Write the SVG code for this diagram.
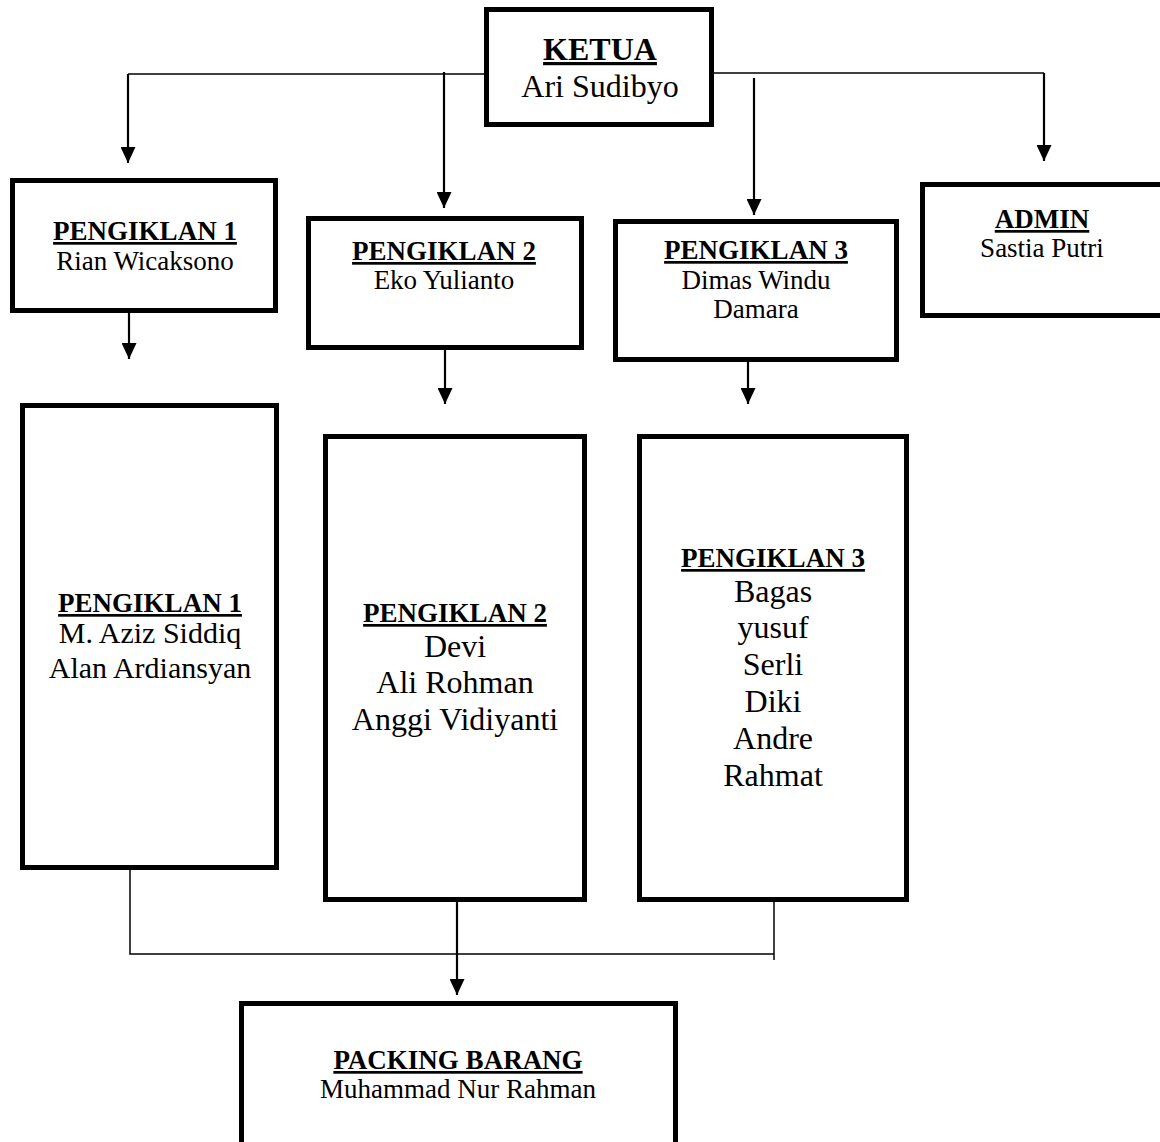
<svg xmlns="http://www.w3.org/2000/svg" width="1160" height="1142" viewBox="0 0 1160 1142">
<style>
.box{fill:#fff;stroke:#000;stroke-width:5}
.h{font-family:"Liberation Serif","Times New Roman",serif;font-weight:bold;text-anchor:middle;text-decoration:underline;fill:#000}
.t{font-family:"Liberation Serif","Times New Roman",serif;text-anchor:middle;fill:#000}
.c{fill:none;stroke:#000;stroke-width:1.5}
.a{fill:none;stroke:#000;stroke-width:2.2;marker-end:url(#arr)}
</style>
<defs>
<marker id="arr" markerUnits="userSpaceOnUse" markerWidth="16" markerHeight="15" refX="16" refY="7.5" orient="auto" viewBox="0 0 16 15">
<path d="M0,0 L16,7.5 L0,15 z" fill="#000"/>
</marker>
</defs>
<rect width="1160" height="1142" fill="#fff"/>
<g id="connectors">
<path class="c" d="M128,74 H486"/>
<path class="a" d="M128,74 V163"/>
<path class="a" d="M444,72 V208"/>
<path class="c" d="M714,73 H1044"/>
<path class="a" d="M1044,73 V161"/>
<path class="a" d="M754,78 V215"/>
<path class="a" d="M129,313 V359"/>
<path class="a" d="M445,350 V404"/>
<path class="a" d="M748,362 V404"/>
<path class="c" d="M130,870 V954 H774"/>
<path class="c" d="M774,896 V960"/>
<path class="a" d="M457,902 V995"/>
</g>
<g id="ketua">
<rect class="box" x="486.5" y="9.5" width="225" height="115"/>
<text class="h" x="600" y="60" font-size="32">KETUA</text>
<text class="t" x="600" y="97" font-size="32">Ari Sudibyo</text>
</g>
<g id="pengiklan1">
<rect class="box" x="12.5" y="180.5" width="263" height="130"/>
<text class="h" x="145" y="240" font-size="27">PENGIKLAN 1</text>
<text class="t" x="145" y="270" font-size="27">Rian Wicaksono</text>
</g>
<g id="pengiklan2">
<rect class="box" x="308.5" y="218.5" width="273" height="129"/>
<text class="h" x="444" y="260" font-size="27">PENGIKLAN 2</text>
<text class="t" x="444" y="289" font-size="27">Eko Yulianto</text>
</g>
<g id="pengiklan3">
<rect class="box" x="615.5" y="221.5" width="281" height="138"/>
<text class="h" x="756" y="259" font-size="27">PENGIKLAN 3</text>
<text class="t" x="756" y="289" font-size="27">Dimas Windu</text>
<text class="t" x="756" y="318" font-size="27">Damara</text>
</g>
<g id="admin">
<rect class="box" x="922.5" y="184.5" width="250" height="131"/>
<text class="h" x="1042" y="228" font-size="27">ADMIN</text>
<text class="t" x="1042" y="257" font-size="27">Sastia Putri</text>
</g>
<g id="tim1">
<rect class="box" x="22.5" y="405.5" width="254" height="462"/>
<text class="h" x="150" y="612" font-size="27">PENGIKLAN 1</text>
<text class="t" x="150" y="643" font-size="30">M. Aziz Siddiq</text>
<text class="t" x="150" y="678" font-size="30">Alan Ardiansyan</text>
</g>
<g id="tim2">
<rect class="box" x="325.5" y="436.5" width="259" height="463"/>
<text class="h" x="455" y="622" font-size="27">PENGIKLAN 2</text>
<text class="t" x="455" y="657" font-size="32">Devi</text>
<text class="t" x="455" y="693" font-size="32">Ali Rohman</text>
<text class="t" x="455" y="730" font-size="32">Anggi Vidiyanti</text>
</g>
<g id="tim3">
<rect class="box" x="639.5" y="436.5" width="267" height="463"/>
<text class="h" x="773" y="567" font-size="27">PENGIKLAN 3</text>
<text class="t" x="773" y="602" font-size="32">Bagas</text>
<text class="t" x="773" y="638" font-size="32">yusuf</text>
<text class="t" x="773" y="675" font-size="32">Serli</text>
<text class="t" x="773" y="712" font-size="32">Diki</text>
<text class="t" x="773" y="749" font-size="32">Andre</text>
<text class="t" x="773" y="786" font-size="32">Rahmat</text>
</g>
<g id="packing">
<rect class="box" x="241.5" y="1003.5" width="434" height="145"/>
<text class="h" x="458" y="1069" font-size="27">PACKING BARANG</text>
<text class="t" x="458" y="1098" font-size="27">Muhammad Nur Rahman</text>
</g>
</svg>
